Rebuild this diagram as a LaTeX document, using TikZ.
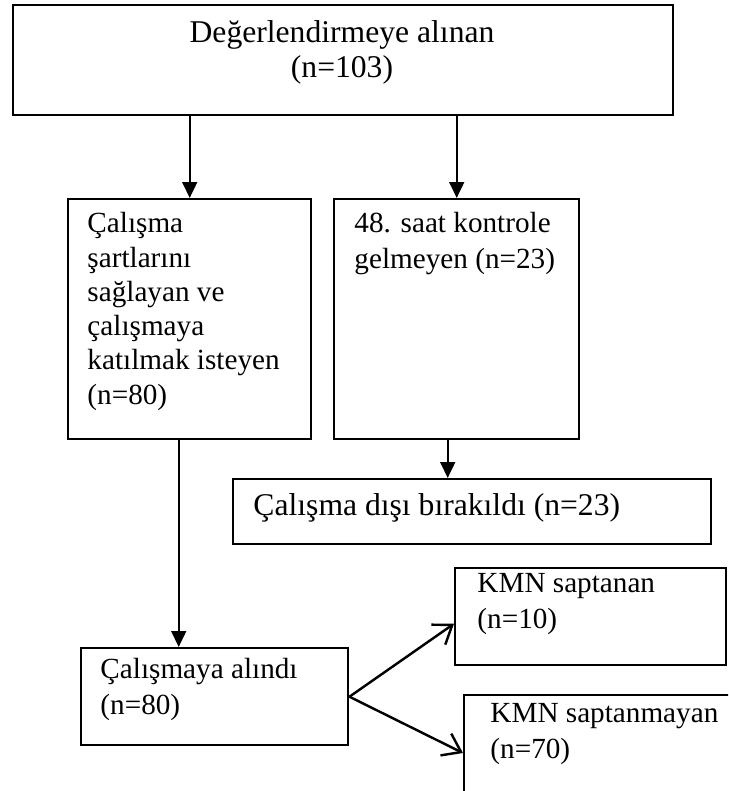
\documentclass[tikz,border=0pt]{standalone}
\usepackage{fontspec}
\setmainfont{Liberation Serif}
\usetikzlibrary{arrows.meta}
\newcommand{\px}{0.411pt}

\begin{document}
\begin{tikzpicture}[x=\px,y=-\px,
  box/.style={draw,line width=1pt,inner sep=0,anchor=north west},
  txt/.style={inner sep=0,anchor=north west,align=left,
    font=\fontsize{12}{14.6}\selectfont,execute at begin node=\strut},
  arr/.style={line width=1pt,-{Triangle[length=6.5pt,width=6pt]}},
  arrv/.style={line width=1pt,-{Straight Barb[length=7pt,width=10pt]}}]
  \useasboundingbox (0,0) rectangle (728,791);
  \clip (0,0) rectangle (728,791);
  % boxes
  \node[box,minimum width=660*\px,minimum height=110*\px] (deg) at (12,4) {};
  \node[box,minimum width=243*\px,minimum height=240*\px] (sart) at (67,198) {};
  \node[box,minimum width=245*\px,minimum height=240*\px] (kont) at (333,198) {};
  \node[box,minimum width=478*\px,minimum height=65*\px] (disi) at (232,478) {};
  \node[box,minimum width=267*\px,minimum height=97*\px] (alin) at (80,647) {};
  \node[box,minimum width=271*\px,minimum height=97*\px] (kmn1) at (454,567) {};
  \node[box,minimum width=300*\px,minimum height=150*\px] (kmn2) at (463,694) {};
  % texts
  \node[txt,anchor=north,align=center,font=\fontsize{13}{14.4}\selectfont] (degt) at (342,20) {Değerlendirmeye alınan\\(n=103)};
  \node[txt,font=\fontsize{12}{14.1}\selectfont] (sartt) at (87,212) {Çalışma\\şartlarını\\sağlayan ve\\çalışmaya\\katılmak isteyen\\(n=80)};
  \node[txt] (kontt) at (354,212) {48. saat kontrole\\gelmeyen (n=23)};
  \node[txt,anchor=base west,font=\fontsize{13}{15}\selectfont] (disit) at (253,515) {Çalışma dışı bırakıldı (n=23)};
  \node[txt] (alint) at (100,658) {Çalışmaya alındı\\(n=80)};
  \node[txt] (kmn1t) at (477,573) {KMN saptanan\\(n=10)};
  \node[txt] (kmn2t) at (490,703) {KMN saptanmayan\\(n=70)};
  % arrows
  \coordinate (k1) at ([xshift=-9*\px]kont.south);
  \coordinate (s1) at ([xshift=-11*\px]sart.south);
  \draw[arr] (deg.south -| sart.north) -- (sart.north);
  \draw[arr] (deg.south -| kont.north) -- (kont.north);
  \draw[arr] (k1) -- (k1 |- disi.north);
  \draw[arr] (s1) -- (s1 |- alin.north);
  \draw[arrv] (alin.east) -- ([yshift=-7*\px]kmn1.west);
  \draw[arrv] (alin.east) -- ([yshift=-59*\px]kmn2.north west);
\end{tikzpicture}
\end{document}
